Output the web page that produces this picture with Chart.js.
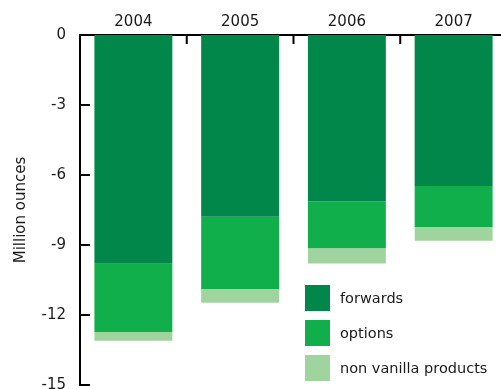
<!DOCTYPE html>
<html lang="en">
<head>
  <meta charset="UTF-8" />
  <title>Hedging positions</title>
  <script src="https://cdn.jsdelivr.net/npm/chart.js@4.4.1/dist/chart.umd.min.js"></script>
  <style>
    html, body {
      margin: 0;
      padding: 0;
      background: #fff;
      overflow: hidden;
      font-family: "DejaVu Sans", Verdana, sans-serif;
    }
    .wrap {
      position: relative;
      width: 510px;
      height: 389px;
    }
    #legend {
      position: absolute;
      left: 305px;
      top: 280px;
      font-size: 14.5px;
      color: #1a1a1a;
    }
    .item {
      display: flex;
      align-items: center;
      height: 35px;
    }
    .box {
      width: 25px;
      height: 26px;
      margin-right: 10px;
    }
  </style>
</head>
<body>
  <div class="wrap">
    <canvas id="chart" width="510" height="389"></canvas>
    <div id="legend"></div>
  </div>

<script>
const years = ['2004', '2005', '2006', '2007'];
const forwards = [-9.8, -7.79, -7.14, -6.47];
const options = [-2.93, -3.1, -2.0, -1.76];
const nonVanilla = [-0.37, -0.58, -0.65, -0.59];
const seriesNames = ['forwards', 'options', 'non vanilla products'];
const seriesColors = ['#01874a', '#10af4b', '#a0d49e'];
const yTicks = [0, -3, -6, -9, -12, -15];

// small tick marks pointing into the plot, on both axes
const innerTicks = {
  id: 'innerTicks',
  afterDraw(chart) {
    const { ctx, chartArea, scales } = chart;
    ctx.save();
    ctx.strokeStyle = '#000';
    ctx.lineWidth = 2;
    ctx.beginPath();
    yTicks.forEach(v => {
      const y = scales.y.getPixelForValue(v);
      ctx.moveTo(chartArea.left, y);
      ctx.lineTo(chartArea.left + 10, y);
    });
    for (let i = 0; i < years.length - 1; i++) {
      const x = (scales.x.getPixelForValue(i) + scales.x.getPixelForValue(i + 1)) / 2;
      ctx.moveTo(x, chartArea.top);
      ctx.lineTo(x, chartArea.top + 9);
    }
    ctx.stroke();
    ctx.restore();
  }
};

const data = [forwards, options, nonVanilla];

new Chart(document.getElementById('chart'), {
  type: 'bar',
  data: {
    labels: years,
    datasets: data.map((d, i) => ({
      label: seriesNames[i],
      data: d,
      backgroundColor: seriesColors[i],
      borderWidth: 0
    }))
  },
  options: {
    responsive: false,
    animation: false,
    layout: { padding: { left: 0, right: 3, top: 0, bottom: 4 } },
    plugins: { legend: { display: false }, tooltip: { enabled: false } },
    datasets: { bar: { categoryPercentage: 1, barPercentage: 0.73 } },
    scales: {
      x: {
        stacked: true,
        position: 'top',
        grid: { display: false, drawTicks: false },
        border: { color: '#000', width: 2 },
        ticks: { color: '#1a1a1a', font: { family: 'DejaVu Sans', size: 15 }, padding: 4 },
        afterFit: s => { s.height = 35; s.paddingLeft = 0; s.paddingRight = 0; }
      },
      y: {
        stacked: true,
        min: -15,
        max: 0,
        grid: { display: false, drawTicks: false },
        border: { color: '#000', width: 2 },
        ticks: {
          stepSize: 3,
          color: '#1a1a1a',
          font: { family: 'DejaVu Sans', size: 15 },
          padding: 14
        },
        title: {
          display: true,
          text: 'Million ounces',
          color: '#1a1a1a',
          font: { family: 'DejaVu Sans', size: 15 },
          padding: { top: 12 }
        },
        afterFit: s => { s.width = 80; s.paddingTop = 0; s.paddingBottom = 0; }
      }
    }
  },
  plugins: [innerTicks]
});

document.getElementById('legend').innerHTML = seriesNames.map((n, i) =>
  `<div class="item"><span class="box" style="background:${seriesColors[i]}"></span>${n}</div>`
).join('');
</script>
</body>
</html>
